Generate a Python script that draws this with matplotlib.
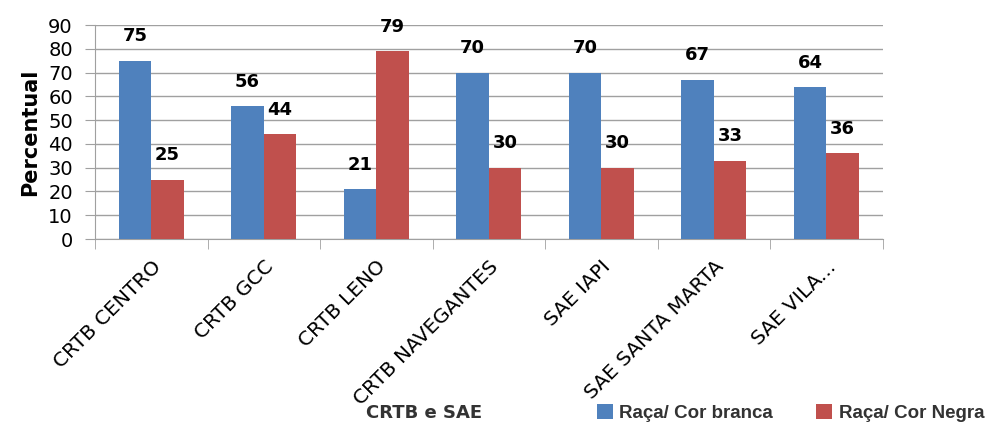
import numpy as np
import matplotlib.pyplot as plt

categories = ["CRTB CENTRO", "CRTB GCC", "CRTB LENO", "CRTB NAVEGANTES",
              "SAE IAPI", "SAE SANTA MARTA", "SAE VILA..."]
branca = [75, 56, 21, 70, 70, 67, 64]
negra = [25, 44, 79, 30, 30, 33, 36]
series_names = ["Raça/ Cor branca", "Raça/ Cor Negra"]

blue = "#4F81BD"
red = "#C0504D"
grid_gray = "#a0a0a0"

fig = plt.figure(figsize=(9.95, 4.25), dpi=100)
ax = fig.add_axes([0.0955, 0.4376, 0.7915, 0.5035])

x = np.arange(len(categories))
w = 0.29
b1 = ax.bar(x - w / 2, branca, width=w, color=blue, zorder=3)
b2 = ax.bar(x + w / 2, negra, width=w, color=red, zorder=3)

# value labels above bars
for bars, vals in [(b1, branca), (b2, negra)]:
    for rect, v in zip(bars, vals):
        ax.annotate(str(v), (rect.get_x() + rect.get_width() / 2, v),
                    xytext=(0, 11), textcoords="offset points",
                    ha="center", va="bottom", fontsize=13, fontweight="bold")

ax.set_xlim(-0.5, len(categories) - 0.5)
ax.set_ylim(0, 90)
ax.set_yticks(range(0, 91, 10))
ax.tick_params(axis="y", labelsize=14, length=7, color=grid_gray, pad=9)
ax.yaxis.grid(True, color=grid_gray, linewidth=1, zorder=0)

ax.set_xticks(x)
ax.set_xticklabels(categories, rotation=45, ha="right", rotation_mode="anchor",
                   fontsize=14.5)
ax.set_xticks(np.arange(-0.5, len(categories), 1), minor=True)
ax.tick_params(axis="x", which="major", length=0, pad=13)
ax.tick_params(axis="x", which="minor", length=7, color=grid_gray)

for s in ["top", "right"]:
    ax.spines[s].set_visible(False)
for s in ["left", "bottom"]:
    ax.spines[s].set_color(grid_gray)

ax.set_ylabel("Percentual", fontsize=15, fontweight="bold", labelpad=6)
fig.text(0.426, 0.028, "CRTB e SAE", ha="center", va="center",
         fontsize=13, fontweight="bold", color="#333333")

leg = fig.legend([b1, b2], series_names, loc="lower left",
                 bbox_to_anchor=(0.583, -0.033), ncol=2, frameon=False,
                 prop={"family": "Liberation Sans", "weight": "bold", "size": 13.5},
                 handlelength=0.85, handleheight=0.9,
                 columnspacing=2.3, handletextpad=0.35)
for t in leg.get_texts():
    t.set_color("#333333")

fig.savefig("out.png", dpi=100)
